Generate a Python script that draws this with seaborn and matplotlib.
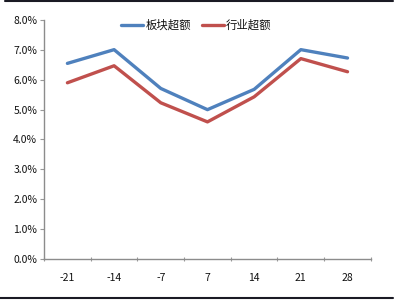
import matplotlib
matplotlib.use("Agg")
import matplotlib.pyplot as plt
import seaborn as sns
import pandas as pd
from matplotlib.lines import Line2D
from matplotlib.ticker import FuncFormatter, FixedLocator

categories = ["-21", "-14", "-7", "7", "14", "21", "28"]
sector_excess = [6.55, 7.01, 5.71, 5.00, 5.68, 7.01, 6.73]
industry_excess = [5.90, 6.47, 5.23, 4.59, 5.43, 6.71, 6.27]
series_names = ["板块超额", "行业超额"]

sns.set_theme(style="white")
plt.rcParams['font.family'] = ['Noto Sans CJK SC', 'DejaVu Sans']

df = pd.DataFrame({
    "day": categories * 2,
    "value": sector_excess + industry_excess,
    "series": [series_names[0]] * len(categories) + [series_names[1]] * len(categories),
})

fig = plt.figure(figsize=(4.08, 3.0), dpi=100)
ax = fig.add_axes([0.108, 0.137, 0.801, 0.796])

sns.lineplot(data=df, x="day", y="value", hue="series",
             palette=["#4F81BD", "#C0504D"], linewidth=2.4, ax=ax, sort=False)

ax.set_xlim(-0.5, len(categories) - 0.5)
ax.set_ylim(0, 8)
ax.set_yticks([0, 1, 2, 3, 4, 5, 6, 7, 8])
ax.yaxis.set_major_formatter(FuncFormatter(lambda v, p: f"{v:.1f}%"))
ax.set_xlabel("")
ax.set_ylabel("")

ax.xaxis.set_minor_locator(FixedLocator([i - 0.5 for i in range(len(categories) + 1)]))
ax.tick_params(axis="x", which="major", length=0, pad=10, labelsize=7.5, colors="#111111")
ax.tick_params(axis="x", which="minor", length=3, width=0.8, color="#999999", direction="inout", bottom=True)
ax.tick_params(axis="y", which="major", length=3, width=0.8, color="#999999", left=True, labelsize=7.5, colors="#111111", pad=2)
for lbl in ax.get_yticklabels() + ax.get_xticklabels():
    lbl.set_color("#111111")
    lbl.set_fontweight("medium")

for s in ["top", "right"]:
    ax.spines[s].set_visible(False)
for s in ["left", "bottom"]:
    ax.spines[s].set_color("#8c8c8c")
    ax.spines[s].set_linewidth(1.0)

leg = ax.legend(loc="upper center", bbox_to_anchor=(0.466, 1.045), ncol=2, frameon=False,
                fontsize=8.2, handlelength=1.9, columnspacing=1.0, handletextpad=0.2)
for t in leg.get_texts():
    t.set_fontweight("medium")
    t.set_color("#111111")

fig.add_artist(Line2D([0.012, 0.963], [0.997, 0.997], color="#1a1a24", linewidth=1.5))
fig.add_artist(Line2D([0.0, 0.963], [0.007, 0.007], color="#1a1a24", linewidth=1.5))

fig.savefig("out.png", dpi=100)
